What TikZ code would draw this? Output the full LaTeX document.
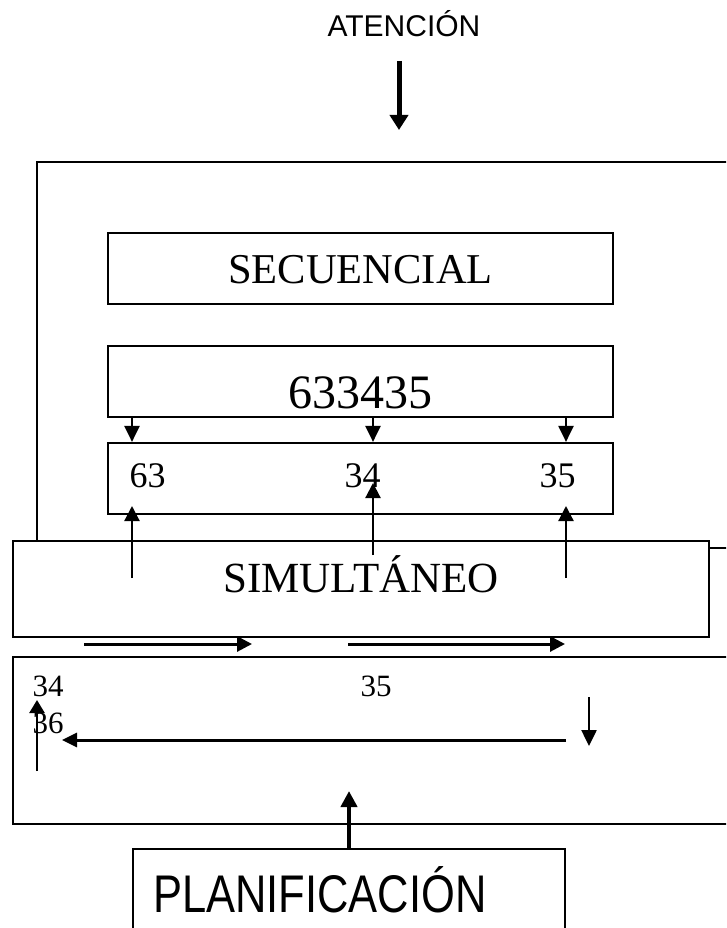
\documentclass[tikz,border=0pt]{standalone}
\usepackage{fontspec}
\usepackage{graphicx}
\setmainfont{Liberation Serif}
\newfontfamily\arialf{Liberation Sans}
\usetikzlibrary{arrows.meta}
\begin{document}
\begin{tikzpicture}[x=1pt,y=-1pt,
  box/.style={draw, line width=2.2pt, rectangle, inner sep=0pt, fill=white},
  txt/.style={anchor=base, inner sep=0pt},
  arr/.style={-{Triangle[width=15pt,length=15pt]}, line width=2.2pt},
  fs/.style={font=\fontsize{#1}{#1}\selectfont}
]
\useasboundingbox (0,0) rectangle (726,928);
\clip (0,0) rectangle (726,928);
\fill[white] (0,0) rectangle (726,928);

% outer frame
\node[box, minimum width=763pt, minimum height=386pt] (frame) at (418.5,355) {};
% boxes
\node[box, minimum width=505pt, minimum height=71pt] (sec) at (360.5,268.5) {};
\node[box, minimum width=505pt, minimum height=71pt] (num) at (360.5,381.5) {};
\node[box, minimum width=505pt, minimum height=71pt] (parts) at (360.5,478.5) {};
\node[box, minimum width=696pt, minimum height=96pt] (simul) at (361,589) {};
\node[box, minimum width=787pt, minimum height=167pt] (lower) at (406.5,740.5) {};
\node[box, minimum width=432pt, minimum height=161pt] (plan) at (349,929.5) {};

% texts
\node[txt, font=\arialf\fontsize{30}{30}\selectfont] (tatt) at (404,37) {ATENCIÓN};
\node[txt, fs=42.5] (tsec) at (360.5,283) {SECUENCIAL};
\node[txt, fs=48] (tnum) at (360,408) {633435};
\node[txt, fs=36] (t63) at (147.5,487) {63};
\node[txt, fs=36] (t34) at (362.5,487) {34};
\node[txt, fs=36] (t35) at (557.5,487) {35};
\node[txt, fs=43] (tsim) at (361,592) {SIMULTÁNEO};
\node[txt, fs=31] (l34) at (48,696) {34};
\node[txt, fs=31] (l35) at (376,696) {35};
\node[txt, fs=31] (l36) at (48,733) {36};
\node[txt, font=\arialf\fontsize{53}{53}\selectfont] (tplan) at (320,912) {\scalebox{0.82}[1]{PLANIFICACIÓN}};

% attention arrow
\coordinate (a0) at (399,61);
\coordinate (a1) at (399,130);
\draw[line width=5pt, -{Triangle[width=18pt,length=15pt]}] (a0) -- (a1);

% down arrows 633435 -> parts
\coordinate (x1) at (132,0);
\coordinate (x2) at (373,0);
\coordinate (x3) at (566,0);
\draw[arr, -{Triangle[width=15pt,length=16pt]}] (num.south -| x1) -- (parts.north -| x1);
\draw[arr, -{Triangle[width=15pt,length=16pt]}] (num.south -| x2) -- (parts.north -| x2);
\draw[arr, -{Triangle[width=15pt,length=16pt]}] (num.south -| x3) -- (parts.north -| x3);

% up arrows from simultaneo
\coordinate (u1s) at (132,578); \coordinate (u1e) at (132,506);
\coordinate (u2s) at (373,555); \coordinate (u2e) at (373,483);
\coordinate (u3s) at (566,578); \coordinate (u3e) at (566,506);
\draw[arr] (u1s) -- (u1e);
\draw[arr] (u2s) -- (u2e);
\draw[arr] (u3s) -- (u3e);

% right arrows between simultaneo and lower box
\coordinate (r1s) at (84,644); \coordinate (r1e) at (252,644);
\coordinate (r2s) at (348,644); \coordinate (r2e) at (565,644);
\draw[arr, line width=3pt] (r1s) -- (r1e);
\draw[arr, line width=3pt] (r2s) -- (r2e);

% lower box arrows
\coordinate (ls) at (566,740); \coordinate (le) at (62,740);
\draw[arr, line width=3pt, -{Triangle[width=14pt,length=15pt]}] (ls) -- (le);
\coordinate (ds) at (589,697); \coordinate (de) at (589,746);
\draw[arr, line width=2.5pt, -{Triangle[width=15pt,length=16pt]}] (ds) -- (de);
\coordinate (us) at (37,771); \coordinate (ue) at (37,700);
\draw[arr, line width=2.5pt, -{Triangle[width=15pt,length=13pt]}] (us) -- (ue);

% planificacion arrow
\coordinate (pe) at (349,791);
\draw[line width=4pt, -{Triangle[width=16pt,length=16pt]}] (plan.north) -- (pe);
\end{tikzpicture}
\end{document}
